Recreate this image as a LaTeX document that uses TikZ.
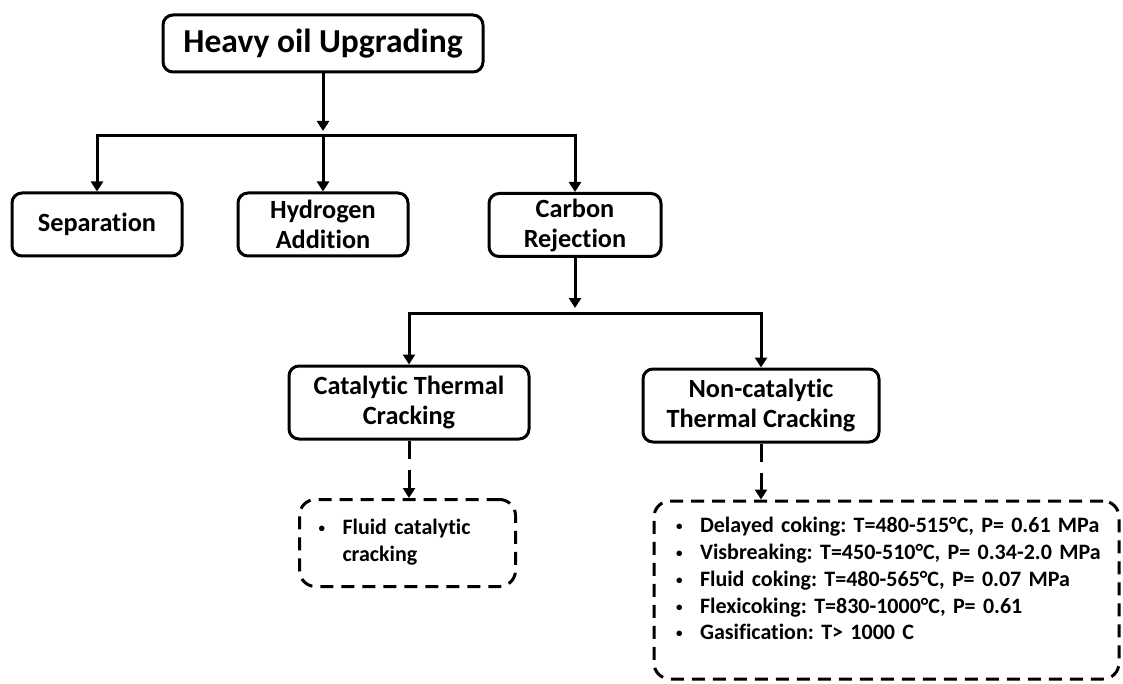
\documentclass[tikz,border=0pt]{standalone}
\usepackage{fontspec}
\setmainfont{Carlito}[Ligatures=NoCommon]
\usetikzlibrary{arrows.meta}
\newcommand{\blt}{\raisebox{2pt}{\fontsize{13}{13}\selectfont•}}
\begin{document}
\frenchspacing
\begin{tikzpicture}[x=1pt,y=-1pt,
  box/.style={draw, line width=3pt, rounded corners=10pt, align=center,
    inner sep=0pt, font=\bfseries\fontsize{26.3}{30}\selectfont},
  dbox/.style={draw, line width=3pt, rounded corners=16pt, dash pattern=on 13pt off 8pt,
    inner ysep=0pt, font=\bfseries\fontsize{22}{26.7}\selectfont, align=left},
  conn/.style={line width=3pt, -{Triangle[width=12pt,length=10pt]}},
  dconn/.style={conn, dash pattern=on 18pt off 11pt}]
\useasboundingbox (0,0) rectangle (1123,684);

\node[box, minimum width=320pt, minimum height=57pt,
  font=\bfseries\fontsize{33.5}{38}\selectfont] (top) at (323,43.5) {Heavy oil Upgrading};
\node[box, minimum width=170pt, minimum height=63pt] (sep) at (97,224.5) {Separation};
\node[box, minimum width=170pt, minimum height=63pt] (hyd) at (323,224.5) {Hydrogen\\Addition};
\node[box, minimum width=172pt, minimum height=63pt] (car) at (575,225) {Carbon\\Rejection};
\node[box, minimum width=240pt, minimum height=73pt] (cat) at (409,402.5) {Catalytic Thermal\\Cracking};
\node[box, minimum width=236pt, minimum height=73pt] (non) at (761,405.5) {Non-catalytic\\Thermal Cracking};

\node[dbox, minimum width=216pt, minimum height=87pt, inner xsep=18pt, text width=178pt]
  (fcc) at (407.5,543)
  {\begin{tabular}{@{}p{24pt}@{}l@{}}\blt&Fluid catalytic\\&cracking\end{tabular}};
\node[dbox, minimum width=465pt, minimum height=178pt, inner xsep=22pt, text width=421pt]
  (big) at (886.5,590)
  {\begin{tabular}{@{}p{24pt}@{}l@{}}
  \blt&Delayed coking: T=480-515°C, P= 0.61 MPa\\
  \blt&Visbreaking: T=450-510°C, P= 0.34-2.0 MPa\\
  \blt&Fluid coking: T=480-565°C, P= 0.07 MPa\\
  \blt&Flexicoking: T=830-1000°C, P= 0.61\\
  \blt&Gasification: T> 1000 C\\[18pt]
  \end{tabular}};

\coordinate (bus1) at (323,136);
\coordinate (bus2) at (575,313);

\draw[conn] (top.south) -- ([yshift=5pt]bus1);
\draw[conn] (bus1) -| (sep.north);
\draw[conn] (bus1) -- (hyd.north);
\draw[conn] (bus1) -| (car.north);

\draw[conn] (car.south) -- ([yshift=5pt]bus2);
\draw[conn] (bus2) -| (cat.north);
\draw[conn] (bus2) -| (non.north);

\draw[dconn] (cat.south) -- (cat.south |- fcc.north);
\draw[dconn] (non.south) -- (non.south |- big.north);
\end{tikzpicture}
\end{document}
